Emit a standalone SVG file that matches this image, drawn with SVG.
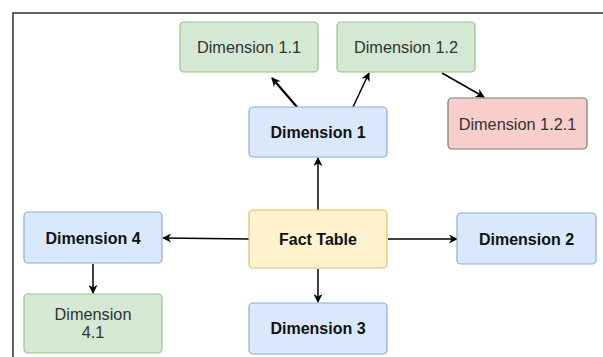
<svg xmlns="http://www.w3.org/2000/svg" width="603" height="357" viewBox="0 0 603 357">
  <style>
    .box { stroke-width: 1.2; }
    .green { fill: #d5e8d4; stroke: #97c38a; }
    .blue { fill: #dae8fc; stroke: #8eaad8; }
    .yellow { fill: #fff2cc; stroke: #dcc06e; }
    .red { fill: #f8cecc; stroke: #7a7a7a; }
    text { font-family: "Liberation Sans", Arial, sans-serif; fill: #222; text-anchor: middle; dominant-baseline: central; }
    .n { font-size: 16.3px; fill: #333; }
    .b { font-size: 16px; font-weight: bold; fill: #111; }
    .edge { fill: none; stroke: #000; stroke-width: 1.5; }
  </style>
  <defs>
    <marker id="arrow" viewBox="0 0 10 10" refX="9" refY="5" markerWidth="10" markerHeight="9" markerUnits="userSpaceOnUse" orient="auto">
      <path d="M0,0 L10,5 L0,10 L3,5 Z" fill="#000"/>
    </marker>
  </defs>
  <rect width="603" height="357" fill="#fff"/>
  <!-- frame -->
  <path d="M13,357 V13 H603" fill="none" stroke="#333" stroke-width="1.5"/>

  <g id="connectors">
    <line class="edge" x1="297" y1="107" x2="272" y2="78" marker-end="url(#arrow)" style="stroke-width:2.2"/>
    <line class="edge" x1="353" y1="107" x2="369" y2="73" marker-end="url(#arrow)"/>
    <line class="edge" x1="442" y1="73" x2="484" y2="97" marker-end="url(#arrow)"/>
    <line class="edge" x1="318" y1="210" x2="318" y2="158" marker-end="url(#arrow)"/>
    <line class="edge" x1="249" y1="239" x2="163" y2="238" marker-end="url(#arrow)"/>
    <line class="edge" x1="388" y1="239" x2="457" y2="239" marker-end="url(#arrow)"/>
    <line class="edge" x1="318" y1="269" x2="318" y2="302" marker-end="url(#arrow)"/>
    <line class="edge" x1="93" y1="264" x2="93" y2="293" marker-end="url(#arrow)"/>
  </g>

  <g id="dim-1-1">
    <rect class="box green" x="180" y="22" width="138" height="50" rx="4"/>
    <text class="n" x="249" y="47">Dimension 1.1</text>
  </g>
  <g id="dim-1-2">
    <rect class="box green" x="337" y="22" width="138" height="50" rx="4"/>
    <text class="n" x="406" y="47">Dimension 1.2</text>
  </g>
  <g id="dim-1-2-1">
    <rect class="box red" x="448" y="98" width="139" height="51" rx="4"/>
    <text class="n" x="517.5" y="124">Dimension 1.2.1</text>
  </g>
  <g id="dim-1">
    <rect class="box blue" x="249" y="107" width="138" height="50" rx="4"/>
    <text class="b" x="318" y="132">Dimension 1</text>
  </g>
  <g id="fact-table">
    <rect class="box yellow" x="249" y="210" width="138" height="58" rx="4"/>
    <text class="b" x="318" y="239">Fact Table</text>
  </g>
  <g id="dim-4">
    <rect class="box blue" x="24" y="212" width="138" height="51" rx="4"/>
    <text class="b" x="93" y="238">Dimension 4</text>
  </g>
  <g id="dim-2">
    <rect class="box blue" x="457" y="213" width="139" height="51" rx="4"/>
    <text class="b" x="526.5" y="239">Dimension 2</text>
  </g>
  <g id="dim-3">
    <rect class="box blue" x="249" y="303" width="138" height="51" rx="4"/>
    <text class="b" x="318" y="328">Dimension 3</text>
  </g>
  <g id="dim-4-1">
    <rect class="box green" x="24" y="294" width="138" height="59" rx="4"/>
    <text class="n" x="93" y="314">Dimension</text>
    <text class="n" x="93" y="332">4.1</text>
  </g>
</svg>
